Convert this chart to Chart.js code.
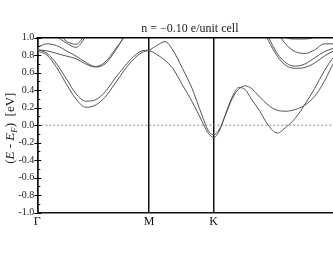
<!DOCTYPE html>
<html>
<head>
<meta charset="utf-8">
<script src="https://cdn.jsdelivr.net/npm/chart.js@4/dist/chart.umd.min.js"></script>
<style>
  html, body { margin: 0; padding: 0; background: #fff; overflow: hidden; }
  #wrap { width: 350px; height: 258px; }
</style>
</head>
<body>
<div id="wrap"><canvas id="myChart" width="350" height="258"></canvas></div>
<script>
// path coordinate along G-M-K-G (|GM| = sqrt3, |MK| = 1, |KG| = 2)
var kPath = [0, 0.15, 0.30, 0.45, 0.60, 0.75, 0.90, 1.05, 1.20, 1.35, 1.50, 1.62, 1.732,
             1.85, 1.98, 2.10, 2.25, 2.40, 2.55, 2.65, 2.732,
             2.82, 2.92, 3.02, 3.12, 3.22, 3.32, 3.45, 3.58, 3.72, 3.86, 4.00, 4.15, 4.30, 4.45, 4.60, 4.732];

var symPos = [0, 1.732, 2.732, 4.732];
var symLabels = ["\u0393", "M", "K", "\u0393"];

var yTicks = [1.0, 0.8, 0.6, 0.4, 0.2, 0.0, -0.2, -0.4, -0.6, -0.8, -1.0];

// energies (eV), null = outside of the window
var bandA1 = [0.85, 0.80, 0.66, 0.47, 0.30, 0.205, 0.23, 0.32, 0.47, 0.63, 0.76, 0.83, 0.85,
              0.81, 0.74, 0.65, 0.46, 0.27, 0.05, -0.09, -0.14,
              -0.07, 0.13, 0.32, 0.43, 0.41, 0.30, 0.16, 0.00, -0.09, -0.02, 0.08, 0.24, 0.42, 0.62, 0.78, 0.84];
var bandA2 = [0.87, 0.82, 0.70, 0.53, 0.36, 0.275, 0.29, 0.38, 0.53, 0.67, 0.79, 0.85, 0.86,
              0.91, 0.955, 0.86, 0.65, 0.42, 0.12, -0.06, -0.11,
              -0.05, 0.12, 0.30, 0.41, 0.45, 0.42, 0.32, 0.23, 0.17, 0.16, 0.18, 0.23, 0.33, 0.50, 0.72, 0.85];
var bandB = [0.89, 0.93, 0.91, 0.85, 0.79, 0.72, 0.67, 0.72, 0.86, 1.01, 1.20, 1.35, null,
             null, null, null, null, null, null, null, null,
             null, null, null, null, null, null, null, null, null, null, null, null, null, null, null, null];
var bandC = [0.86, 0.85, 0.82, 0.79, 0.76, 0.70, 0.665, 0.70, 0.84, 1.02, 1.20, 1.35, null,
             null, null, null, null, null, null, null, null,
             null, null, null, null, null, null, null, null, null, null, null, null, null, null, null, null];
var bandD = [null, 1.15, 1.02, 0.94, 0.89, 1.01, 1.15, null, null, null, null, null, null,
             null, null, null, null, null, null, null, null,
             null, null, null, null, null, null, null, null, null, null, null, null, null, null, null, null];
var bandE = [null, null, 1.08, 0.96, 0.925, 1.04, null, null, null, null, null, null, null,
             null, null, null, null, null, null, null, null,
             null, null, null, null, null, null, null, null, null, null, null, null, null, null, null, null];
var bandR1 = [null, null, null, null, null, null, null, null, null, null, null, null, null,
              null, null, null, null, null, null, null, null,
              null, null, null, null, null, null, 1.15, 0.97, 0.79, 0.68, 0.65, 0.66, 0.71, 0.79, 0.85, 0.88];
var bandR2 = [null, null, null, null, null, null, null, null, null, null, null, null, null,
              null, null, null, null, null, null, null, null,
              null, null, null, null, null, null, 1.18, 1.01, 0.82, 0.71, 0.675, 0.70, 0.77, 0.84, 0.88, 0.90];
var bandR3 = [null, null, null, null, null, null, null, null, null, null, null, null, null,
              null, null, null, null, null, null, null, null,
              null, null, null, null, null, null, null, 1.22, 1.06, 0.92, 0.84, 0.82, 0.86, 0.93, 0.93, 0.90];
var bandR4 = [null, null, null, null, null, null, null, null, null, null, null, null, null,
              null, null, null, null, null, null, null, null,
              null, null, null, null, null, null, null, null, 1.10, 1.00, 0.985, 0.985, 1.01, 1.08, null, null];

var fermiX = [0, 4.732];
var fermiY = [0, 0];

var titleText = "n = \u22120.10 e/unit cell";
var serif = "'Liberation Serif', 'Times New Roman', serif";

function toPoints(ys) {
    var pts = [];
    for (var i = 0; i < kPath.length; i++) {
        pts.push({ x: kPath[i], y: ys[i] });
    }
    return pts;
}

var bands = [bandA1, bandA2, bandB, bandC, bandD, bandE, bandR1, bandR2, bandR3, bandR4];
var datasets = [];
datasets.push({
    data: [{ x: fermiX[0], y: fermiY[0] }, { x: fermiX[1], y: fermiY[1] }],
    borderColor: "#8a8a8a",
    borderWidth: 1,
    borderDash: [2, 2],
    pointRadius: 0
});
for (var b = 0; b < bands.length; b++) {
    datasets.push({
        data: toPoints(bands[b]),
        borderColor: "#555",
        borderWidth: 1,
        pointRadius: 0,
        cubicInterpolationMode: "monotone",
        spanGaps: false
    });
}

// inner/outer ticks, top frame line, y axis title
var framePlugin = {
    id: "framePlugin",
    afterDraw: function (chart) {
        var ctx = chart.ctx;
        var area = chart.chartArea;
        var ys = chart.scales.y;
        var x0 = area.left;
        ctx.save();
        ctx.strokeStyle = "#000";
        ctx.lineWidth = 1.5;
        ctx.beginPath();
        ctx.moveTo(x0 - 0.75, area.top);
        ctx.lineTo(area.right, area.top);
        ctx.stroke();
        ctx.lineWidth = 1;
        for (var v = -10; v <= 10; v++) {
            var py = Math.round(ys.getPixelForValue(v / 10)) + 0.5;
            ctx.beginPath();
            if (v % 2 === 0) {
                ctx.moveTo(x0 - 3, py);
                ctx.lineTo(x0 + 4, py);
            } else {
                ctx.moveTo(x0, py);
                ctx.lineTo(x0 + 3, py);
            }
            ctx.stroke();
        }
        ctx.restore();

        // y axis title: (E - E_F)  [eV]
        var pieces = [
            { t: "(", font: "13px " + serif, dy: 0 },
            { t: "E", font: "italic 13px " + serif, dy: 0 },
            { t: " - ", font: "13px " + serif, dy: 0 },
            { t: "E", font: "italic 13px " + serif, dy: 0 },
            { t: "F", font: "italic 9px " + serif, dy: 3 },
            { t: ")  [eV]", font: "13px " + serif, dy: 0 }
        ];
        ctx.save();
        ctx.fillStyle = "#222";
        ctx.textBaseline = "alphabetic";
        var total = 0;
        for (var i = 0; i < pieces.length; i++) {
            ctx.font = pieces[i].font;
            pieces[i].w = ctx.measureText(pieces[i].t).width;
            total += pieces[i].w;
        }
        ctx.translate(14, (area.top + area.bottom) / 2 + 3);
        ctx.rotate(-Math.PI / 2);
        var px = -total / 2;
        for (var j = 0; j < pieces.length; j++) {
            ctx.font = pieces[j].font;
            ctx.fillText(pieces[j].t, px, pieces[j].dy);
            px += pieces[j].w;
        }
        ctx.restore();
    }
};

new Chart("myChart", {
    type: "line",
    data: { datasets: datasets },
    options: {
        responsive: false,
        animation: false,
        events: [],
        layout: { padding: { left: 0, right: 7.5, top: 0, bottom: 28.3 } },
        plugins: {
            legend: { display: false },
            tooltip: { enabled: false },
            title: {
                display: true,
                text: titleText,
                fullSize: false,
                color: "#222",
                font: { family: serif, size: 12, weight: "normal" },
                padding: { top: 22, bottom: 1.3 }
            }
        },
        scales: {
            x: {
                type: "linear",
                min: 0,
                max: 4.732,
                afterBuildTicks: function (scale) {
                    scale.ticks = symPos.map(function (v) { return { value: v }; });
                },
                afterFit: function (scale) { scale.height = 17; },
                ticks: {
                    autoSkip: false,
                    maxRotation: 0,
                    padding: 2,
                    color: "#111",
                    font: { family: serif, size: 12 },
                    callback: function (value, index) { return symLabels[index]; }
                },
                grid: { color: "#111", lineWidth: 1.5, drawTicks: false },
                border: { color: "#111", width: 1.5 }
            },
            y: {
                min: -1,
                max: 1,
                afterBuildTicks: function (scale) {
                    scale.ticks = yTicks.map(function (v) { return { value: v }; });
                },
                afterFit: function (scale) { scale.width = 37.3; },
                ticks: {
                    padding: 3,
                    color: "#222",
                    font: { family: serif, size: 10 },
                    callback: function (value) { return value.toFixed(1); }
                },
                grid: { display: false, drawTicks: false },
                border: { color: "#111", width: 1.5 }
            }
        }
    },
    plugins: [framePlugin]
});
</script>
</body>
</html>
